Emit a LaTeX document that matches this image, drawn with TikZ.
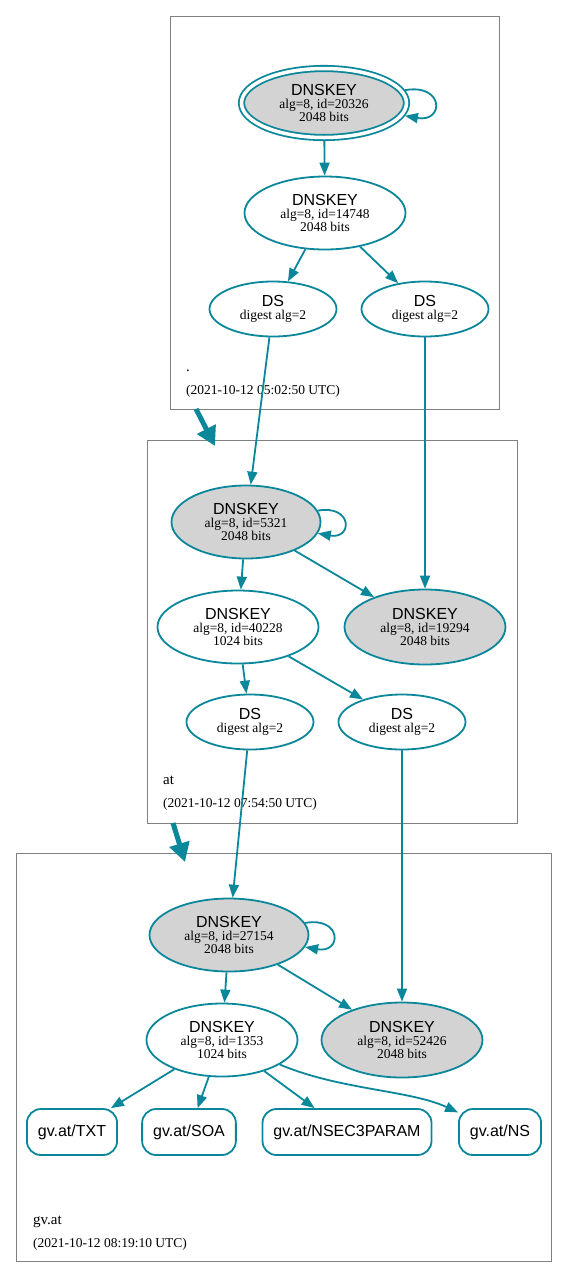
\documentclass[tikz,border=0pt]{standalone}
\usepackage{fontspec}
\setmainfont{Liberation Serif}
\setsansfont{Liberation Sans}
\usetikzlibrary{shapes.geometric, arrows.meta}
\definecolor{dnsteal}{HTML}{0A879A}
\definecolor{keygray}{HTML}{D3D3D3}
\tikzstyle{key} = [ellipse, minimum width=160pt, minimum height=73pt, inner sep=0pt, align=center, draw=dnsteal, line width=1.8pt, fill=white, font=\fontsize{13.5}{13}\selectfont]
\tikzstyle{sep} = [key, fill=keygray]
\tikzstyle{trust} = [sep, double=white, double distance=3.5pt, outer sep=3.5pt, minimum width=165pt, minimum height=69pt]
\tikzstyle{ds} = [key, minimum width=127pt, minimum height=55pt, font=\fontsize{13.5}{13.5}\selectfont]
\tikzstyle{rrset} = [rectangle, rounded corners=14pt, draw=dnsteal, line width=1.8pt, minimum height=46pt, inner xsep=11pt, font=\sffamily\fontsize{16}{16}\selectfont]
\tikzstyle{zone} = [rectangle, draw=gray, line width=0.8pt, anchor=north west, inner sep=0pt]
\tikzstyle{zonename} = [anchor=base west, inner sep=0pt, font=\fontsize{15}{15}\selectfont]
\tikzstyle{zonedate} = [anchor=base west, inner sep=0pt, font=\fontsize{13.5}{13.5}\selectfont]
\tikzstyle{arrow} = [draw=dnsteal, line width=1.8pt, -{Triangle[length=13pt,width=10pt]}]
\tikzstyle{deleg} = [draw=dnsteal, line width=5pt, -{Triangle[length=19pt,width=20pt]}]
\newcommand{\dnskey}[2]{{\sffamily\fontsize{16}{13}\selectfont DNSKEY}\\alg=8, id=#1\\#2 bits}
\newcommand{\dsdigest}{{\sffamily\fontsize{16}{13.5}\selectfont DS}\\digest alg=2}

\begin{document}
\begin{tikzpicture}[x=1pt, y=-1pt]
\useasboundingbox (0,0) rectangle (568,1278);

% Drawing zones
\node (zroot) [zone, minimum width=329pt, minimum height=393pt] at (170,16) {};
\node (zat) [zone, minimum width=370pt, minimum height=383pt] at (147,440) {};
\node (zgv) [zone, minimum width=535pt, minimum height=408pt] at (16,853) {};

\node (lroot) [zonename] at (186,371) {.};
\node (droot) [zonedate] at (186,394) {(2021-10-12 05:02:50 UTC)};
\node (lat) [zonename] at (163,784) {at};
\node (dat) [zonedate] at (163,807) {(2021-10-12 07:54:50 UTC)};
\node (lgv) [zonename] at (33,1224) {gv.at};
\node (dgv) [zonedate] at (33,1247) {(2021-10-12 08:19:10 UTC)};

% Drawing nodes
\node (k20326) [trust] at (324,103) {\dnskey{20326}{2048}};
\node (k14748) [key, minimum width=161pt] at (325,213) {\dnskey{14748}{2048}};
\node (ds1) [ds] at (273,309) {\dsdigest};
\node (ds2) [ds] at (425,309) {\dsdigest};

\node (k5321) [sep, minimum width=149pt] at (246,522) {\dnskey{5321}{2048}};
\node (k19294) [sep, minimum width=161pt, minimum height=75pt] at (425,627) {\dnskey{19294}{2048}};
\node (k40228) [key, minimum width=161pt] at (238,627) {\dnskey{40228}{1024}};
\node (ds3) [ds] at (250,722) {\dsdigest};
\node (ds4) [ds] at (402,722) {\dsdigest};

\node (k27154) [sep, minimum width=159pt] at (229,935) {\dnskey{27154}{2048}};
\node (k52426) [sep, minimum width=161pt, minimum height=75pt] at (402,1040) {\dnskey{52426}{2048}};
\node (k1353) [key, minimum width=151pt] at (222,1040) {\dnskey{1353}{1024}};
\node (txt) [rrset] at (72,1132) {gv.at/TXT};
\node (soa) [rrset] at (189,1132) {gv.at/SOA};
\node (n3p) [rrset] at (347,1132) {gv.at/NSEC3PARAM};
\node (ns) [rrset] at (500,1132) {gv.at/NS};

% Drawing arrows
\draw [arrow] (k20326.9) to[out=10, in=-10, looseness=4] (k20326.-9);
\draw [arrow] (k20326) -- (k14748);
\draw [arrow] (k14748) -- (ds1);
\draw [arrow] (k14748) -- (ds2);
\draw [arrow] (ds1) -- (k5321);
\draw [arrow] (ds2) -- (k19294);

\draw [arrow] (k5321.9) to[out=10, in=-10, looseness=4] (k5321.-9);
\draw [arrow] (k5321) -- (k40228);
\draw [arrow] (k5321) -- (k19294);
\draw [arrow] (k40228) -- (ds3);
\draw [arrow] (k40228) -- (ds4);
\draw [arrow] (ds3) -- (k27154);
\draw [arrow] (ds4) -- (k52426);

\draw [arrow] (k27154.9) to[out=10, in=-10, looseness=4] (k27154.-9);
\draw [arrow] (k27154) -- (k1353);
\draw [arrow] (k27154) -- (k52426);
\draw [arrow] (k1353) -- (txt);
\draw [arrow] (k1353) -- (soa);
\draw [arrow] (k1353) -- (n3p);
\draw [arrow] (k1353) .. controls (340,1090) and (410,1090) .. (ns);

% Drawing delegations
\coordinate (rootout) at (196,409);
\coordinate (atin) at (215,446);
\coordinate (atout) at (173,823);
\coordinate (gvin) at (185,862);
\draw [deleg] (rootout) -- (atin);
\draw [deleg] (atout) -- (gvin);
\end{tikzpicture}
\end{document}
